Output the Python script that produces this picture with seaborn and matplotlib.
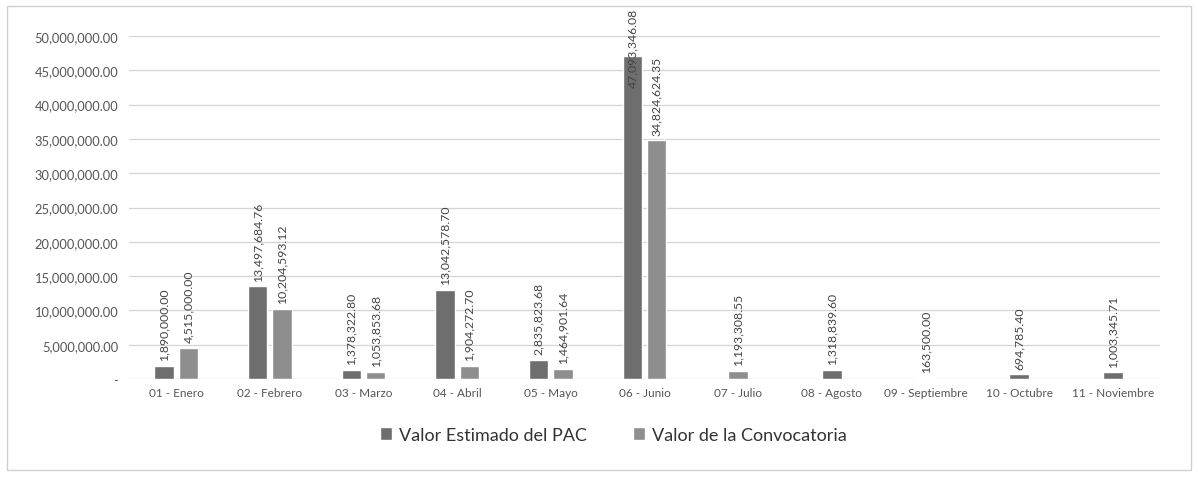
import numpy as np
import pandas as pd
import matplotlib
matplotlib.use("Agg")
import matplotlib.pyplot as plt
import seaborn as sns
from matplotlib.patches import Rectangle

meses = ["01 - Enero", "02 - Febrero", "03 - Marzo", "04 - Abril", "05 - Mayo",
         "06 - Junio", "07 - Julio", "08 - Agosto", "09 - Septiembre",
         "10 - Octubre", "11 - Noviembre"]
series = ["Valor Estimado del PAC", "Valor de la Convocatoria"]
pac = [1890000.00, 13497684.76, 1378322.80, 13042578.70, 2835823.68,
       47093346.08, np.nan, 1318839.60, 163500.00, 694785.40, 1003345.71]
convocatoria = [4515000.00, 10204593.12, 1053853.68, 1904272.70, 1464901.64,
                34824624.35, 1193308.55, np.nan, np.nan, np.nan, np.nan]
yticks = [0, 5e6, 10e6, 15e6, 20e6, 25e6, 30e6, 35e6, 40e6, 45e6, 50e6]
colores = ["#6e6e6e", "#8e8e8e"]

df = pd.DataFrame({
    "mes": meses * 2,
    "serie": [series[0]] * len(meses) + [series[1]] * len(meses),
    "valor": pac + convocatoria,
})
ambos = [m for m, a, b in zip(meses, pac, convocatoria) if not (np.isnan(a) or np.isnan(b))]
pares = df[df["mes"].isin(ambos)]
solos = df[~df["mes"].isin(ambos) & df["valor"].notna()]

sns.set_style("white")
plt.rcParams["font.family"] = ["Lato", "DejaVu Sans"]

fig = plt.figure(figsize=(11.98, 4.81), dpi=100)
ax = fig.add_axes([0.108, 0.21, 0.86, 0.713])

pal = dict(zip(series, colores))
sns.barplot(data=pares, x="mes", y="valor", hue="serie", order=meses,
            hue_order=series, palette=pal, width=0.52, gap=0.2, ax=ax,
            saturation=1)
leg_handles, leg_labels = ax.get_legend_handles_labels()
ax.get_legend().remove()
sns.barplot(data=solos, x="mes", y="valor", hue="serie", order=meses,
            hue_order=series, palette=pal, dodge=False, width=0.21, ax=ax,
            saturation=1, legend=False)

ymax = 50e6
for c in ax.containers:
    anns = ax.bar_label(c, fmt="{:,.2f}", rotation=90, padding=4, fontsize=8.8,
                        color="#444444")
    # etiqueta que no cabe arriba: se mete dentro de la barra (como Excel)
    for ann, v in zip(anns, c.datavalues):
        if v > 0.9 * ymax:
            ann.xyann = (0, -22)

ax.set_ylim(0, ymax)
ax.set_yticks(yticks)
ax.set_yticklabels(["-"] + [f"{v:,.2f}" for v in yticks[1:]], fontsize=9.3,
                   color="#555555")
ax.tick_params(axis="x", labelsize=8.5, colors="#555555", length=0, pad=6)
ax.tick_params(axis="y", length=0, pad=8)
ax.set_xlabel("")
ax.set_ylabel("")
ax.grid(axis="y", color="#d4d4d4", linewidth=0.9)
ax.set_axisbelow(True)
for s in ax.spines.values():
    s.set_visible(False)

fig.legend(leg_handles, leg_labels, loc="center", bbox_to_anchor=(0.512, 0.094),
           ncol=2, frameon=False, fontsize=13, handlelength=0.7,
           handleheight=0.7, columnspacing=2.5, handletextpad=0.4,
           labelcolor="#333333")

fig.patches.append(Rectangle((0.006, 0.02), 0.988, 0.965, transform=fig.transFigure,
                             fill=False, edgecolor="#d0d0d0", linewidth=1))

fig.savefig("out.png", dpi=100)
